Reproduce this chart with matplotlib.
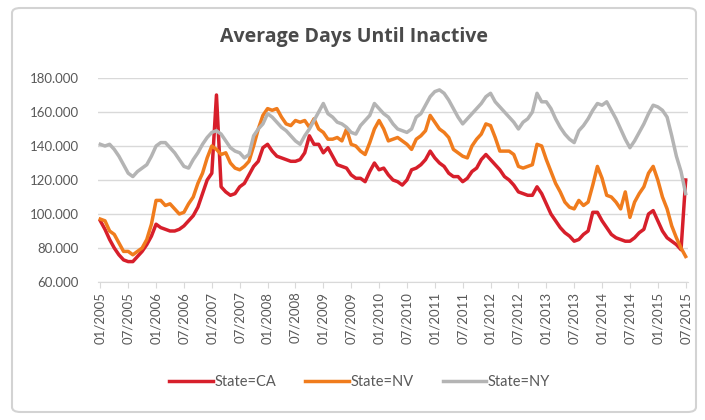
import numpy as np
import matplotlib
matplotlib.use("Agg")
from matplotlib import pyplot as plt
from matplotlib.patches import FancyBboxPatch

# monthly values, 01/2005 .. 07/2015
ca = [96, 91, 85, 80, 76, 73, 72, 72, 75, 78, 82, 87, 94, 92, 91, 90, 90, 91, 93, 96, 99,
      104, 112, 120, 124, 170, 116, 113, 111, 112, 116, 118, 123, 128, 131, 139, 141, 137, 134, 133, 132,
      131, 131, 132, 136, 146, 141, 141, 136, 139, 134, 129, 128, 127, 123, 121, 121, 119, 125, 130, 126,
      127, 123, 120, 119, 117, 120, 126, 127, 129, 132, 137, 133, 130, 128, 124, 122, 122, 119, 121, 125,
      127, 132, 135, 132, 129, 126, 122, 120, 117, 113, 112, 111, 111, 116, 112, 106, 100, 96, 92, 89,
      87, 84, 85, 88, 90, 101, 101, 96, 92, 88, 86, 85, 84, 84, 86, 89, 91, 100, 102, 96, 90, 86, 84, 82, 79, 120]
nv = [97, 96, 90, 88, 83, 78, 78, 76, 78, 80, 85, 94, 108, 108, 105, 106, 103, 100, 101, 106, 110,
      118, 124, 133, 140, 138, 135, 136, 130, 127, 126, 128, 131, 140, 150, 158, 162, 161, 162, 157, 153,
      152, 155, 154, 155, 151, 156, 150, 148, 144, 144, 145, 143, 150, 141, 140, 137, 135, 142, 150, 155,
      150, 143, 144, 145, 143, 141, 138, 144, 146, 149, 158, 154, 150, 148, 145, 138, 136, 134, 133, 140,
      144, 147, 153, 152, 145, 137, 137, 137, 135, 128, 127, 128, 129, 141, 140, 132, 125, 118, 113, 107,
      104, 103, 108, 105, 107, 117, 128, 121, 111, 110, 107, 103, 113, 98, 107, 112, 116, 124, 128, 120, 110, 103, 93, 86, 80, 75]
ny = [141, 140, 141, 138, 134, 129, 124, 122, 125, 127, 129, 134, 140, 142, 142, 139, 136, 132, 128, 127, 132,
      136, 141, 145, 148, 149, 147, 143, 139, 137, 136, 133, 135, 146, 150, 153, 159, 157, 154, 151, 149,
      146, 143, 141, 146, 150, 155, 160, 165, 159, 157, 154, 153, 151, 148, 147, 152, 155, 158, 165, 162,
      159, 157, 153, 150, 149, 148, 150, 157, 159, 164, 169, 172, 173, 171, 167, 162, 157, 153, 156, 159,
      162, 165, 169, 171, 166, 163, 160, 157, 154, 150, 154, 156, 160, 171, 166, 166, 162, 156, 151, 147,
      144, 142, 149, 152, 156, 161, 165, 164, 166, 161, 156, 150, 144, 139, 143, 148, 153, 159, 164, 163, 161, 157, 146, 134, 125, 112]

months = [f"{m:02d}/{y}" for y in range(2005, 2016) for m in range(1, 13)][:len(ca)]
tick_idx = list(range(0, len(ca), 6))

plt.rcParams['font.family'] = ['Lato', 'DejaVu Sans']

fig = plt.figure(figsize=(7.05, 4.2), dpi=100)
fig.patch.set_facecolor('white')

# card border
card = FancyBboxPatch((12 / 705, 8 / 420), 684 / 705, 404 / 420,
                      boxstyle="round,pad=0,rounding_size=0.012",
                      transform=fig.transFigure, facecolor='white',
                      edgecolor='#d3d3d3', linewidth=1.5, zorder=-10)
fig.patches.append(card)

fig.text(354 / 705, 1 - 37 / 420, "Average Days Until Inactive", ha='center', va='center',
         fontsize=14, fontweight='bold', color='#4a4a4a', family=['Open Sans', 'DejaVu Sans'])

ax = fig.add_axes([98 / 705, 1 - 282 / 420, 590 / 705, 204 / 420])
ax.set_facecolor('none')

x = np.arange(len(ca))
ax.plot(x, ca, color='#d71f2b', lw=2.5, label='State=CA', solid_joinstyle='round')
ax.plot(x, nv, color='#f07c1d', lw=2.5, label='State=NV', solid_joinstyle='round')
ax.plot(x, ny, color='#b4b4b4', lw=2.5, label='State=NY', solid_joinstyle='round')

ax.set_xlim(-0.5, len(ca) - 0.5)
ax.set_ylim(60, 180)
ax.set_yticks(np.arange(60, 181, 20))
ax.set_yticklabels([f"{v:.3f}" for v in range(60, 181, 20)])
ax.set_xticks(tick_idx)
ax.set_xticklabels([months[i] for i in tick_idx], rotation=90)

ax.grid(axis='y', color='#d9d9d9', lw=1)
ax.set_axisbelow(True)
for s in ['top', 'right', 'left']:
    ax.spines[s].set_visible(False)
ax.spines['bottom'].set_color('#d9d9d9')
ax.tick_params(axis='y', length=0, labelsize=9.5, labelcolor='#595959', pad=14)
ax.tick_params(axis='x', length=4, color='#d9d9d9', labelsize=9.5, labelcolor='#595959', pad=3)

fig.legend(loc='center', bbox_to_anchor=(0.51, 1 - 382 / 420), ncol=3, frameon=False,
           handlelength=3.0, handletextpad=0.1, columnspacing=2.0,
           prop={'size': 10.5}, labelcolor='#595959')

fig.savefig('out.png', dpi=100)
